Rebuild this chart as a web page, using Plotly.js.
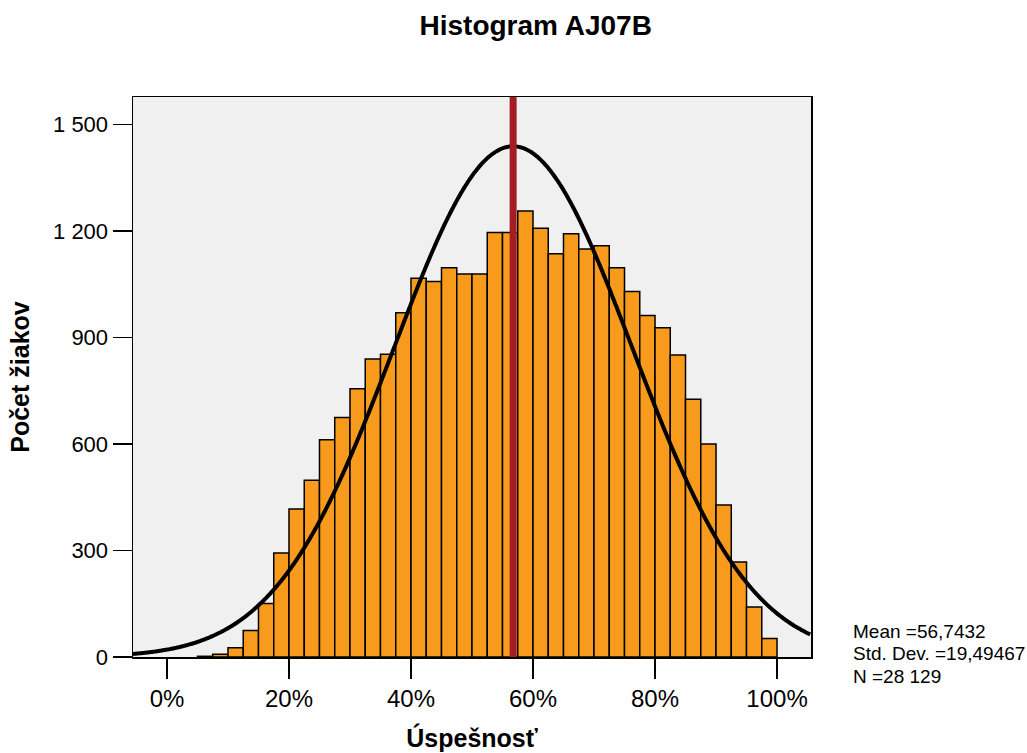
<!DOCTYPE html>
<html>
<head>
<meta charset="utf-8">
<script src="https://cdn.plot.ly/plotly-3.0.1.min.js"></script>
<style>html,body{margin:0;padding:0;background:#fff;}#chart{width:1027px;height:753px;}</style>
</head>
<body>
<div id="chart"></div>
<script>
// Bin centres (% success), bin width 2.5 %
const binCenters = [6.25, 8.75, 11.25, 13.75, 16.25, 18.75, 21.25, 23.75, 26.25, 28.75,
  31.25, 33.75, 36.25, 38.75, 41.25, 43.75, 46.25, 48.75, 51.25, 53.75,
  56.25, 58.75, 61.25, 63.75, 66.25, 68.75, 71.25, 73.75, 76.25, 78.75,
  81.25, 83.75, 86.25, 88.75, 91.25, 93.75, 96.25, 98.75];
// Number of pupils in each bin
const counts = [2, 8, 26, 75, 151, 293, 417, 498, 612, 675,
  756, 840, 853, 970, 1067, 1058, 1097, 1079, 1079, 1196,
  1196, 1257, 1208, 1136, 1193, 1150, 1159, 1097, 1030, 962,
  928, 851, 726, 600, 428, 268, 141, 52];
const binWidth = 2.5;
const meanVal = 56.7432;
const sdVal = 19.49467;
const nVal = 28129;
const xTickVals = [0, 20, 40, 60, 80, 100];
const xTickText = ['0%', '20%', '40%', '60%', '80%', '100%'];
const yTickVals = [0, 300, 600, 900, 1200, 1500];
const yTickText = ['0', '300', '600', '900', '1 200', '1 500'];
const statLines = ['Mean =56,7432', 'Std. Dev. =19,49467', 'N =28 129'];
const xRange = [-5.57, 105.57];
const yRange = [0, 1578];

// Fitted normal curve (SPSS style) from mean, SD and N
const curveX = [], curveY = [];
for (let x = xRange[0]; x <= xRange[1] + 0.001; x += 0.25) {
  curveX.push(x);
  const z = (x - meanVal) / sdVal;
  curveY.push(nVal * binWidth / (sdVal * Math.sqrt(2 * Math.PI)) * Math.exp(-0.5 * z * z));
}

const font = 'Liberation Sans, Arial, Helvetica, sans-serif';

const traces = [
  {
    type: 'bar', x: binCenters, y: counts, width: binWidth,
    marker: {color: 'rgb(248,155,29)', line: {color: '#000', width: 1.5}},
    hoverinfo: 'x+y', showlegend: false
  },
  {
    type: 'scatter', mode: 'lines', x: curveX, y: curveY,
    line: {color: '#000', width: 4, shape: 'spline'},
    hoverinfo: 'skip', showlegend: false
  }
];

const statY = [0.0459, 0.0057, -0.0345];
const annotations = statLines.map((t, i) => ({
  xref: 'paper', yref: 'paper', x: 1.0594, y: statY[i], xanchor: 'left', yanchor: 'middle',
  align: 'left', showarrow: false, text: t,
  font: {family: font, size: 19, color: '#000'}
}));

const layout = {
  width: 1027, height: 753,
  margin: {l: 133, r: 216, t: 97, b: 96, pad: 0},
  paper_bgcolor: '#ffffff',
  plot_bgcolor: '#f0f0f0',
  font: {family: font, color: '#000', size: 22},
  bargap: 0,
  title: {
    text: '<b>Histogram AJ07B</b>',
    font: {family: font, size: 28, color: '#000'},
    x: 0.5216, xref: 'container', xanchor: 'center',
    y: 0.966, yref: 'container', yanchor: 'middle'
  },
  xaxis: {
    range: xRange, tickvals: xTickVals, ticktext: xTickText,
    ticks: 'outside', ticklen: 20, tickwidth: 1.5, tickcolor: '#000',
    showline: true, linecolor: '#000', linewidth: 1.5, mirror: true,
    showgrid: false, zeroline: false,
    tickfont: {family: font, size: 24, color: '#000'},
    title: {text: '<b>Úspešnosť</b>', font: {family: font, size: 25, color: '#000'}, standoff: 18}
  },
  yaxis: {
    range: yRange, tickvals: yTickVals, ticktext: yTickText,
    ticks: 'outside', ticklen: 19, tickwidth: 1.5, tickcolor: '#000',
    showline: true, linecolor: '#000', linewidth: 1.5, mirror: true,
    showgrid: false, zeroline: false,
    tickfont: {family: font, size: 22, color: '#000'},
    title: {text: '<b>Počet žiakov</b>', font: {family: font, size: 25, color: '#000'}, standoff: 16}
  },
  shapes: [{
    type: 'line', xref: 'x', yref: 'paper', x0: meanVal, x1: meanVal, y0: 0, y1: 1,
    line: {color: '#a51c22', width: 7}
  }],
  annotations: annotations
};

Plotly.newPlot('chart', traces, layout, {displayModeBar: false, staticPlot: true});
</script>
</body>
</html>
